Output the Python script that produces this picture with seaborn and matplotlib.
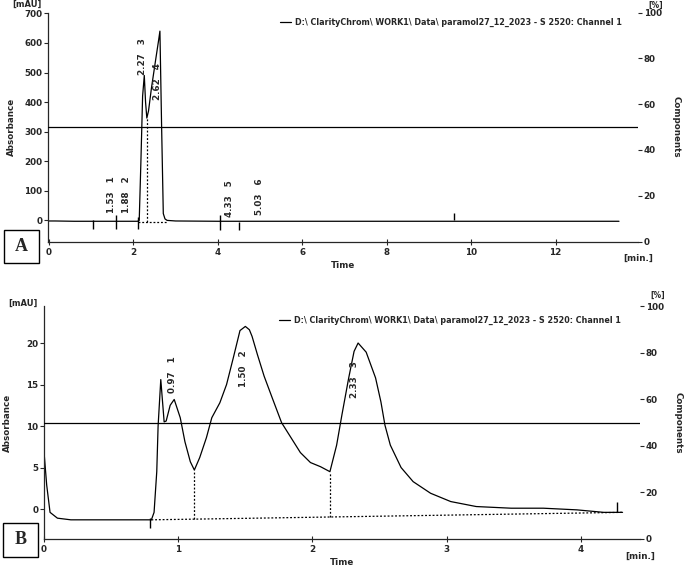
import numpy as np
import pandas as pd
import matplotlib
matplotlib.use("Agg")
import matplotlib.pyplot as plt
import matplotlib.transforms as mtransforms
import seaborn as sns
from matplotlib.patches import Rectangle

# ---------------- data: panel A ----------------
a_time = [0.00, 0.15, 0.60, 1.00, 1.50, 2.00, 2.10, 2.14, 2.18, 2.22, 2.26, 2.29,
          2.32, 2.36, 2.43, 2.53, 2.60, 2.63, 2.67, 2.71, 2.75, 2.80, 3.00, 4.00,
          5.00, 7.00, 9.00, 11.00, 13.50]
a_signal = [-2, -2, -3, -3, -3, -3, -3, 0, 200, 420, 490, 400,
            346, 370, 448, 544, 610, 640, 317, 23, 5, 0, -2, -3,
            -3, -3, -3, -3, -3]
a_peak_rt = [1.53, 1.88, 2.27, 2.62, 4.33, 5.03]
a_peak_id = [1, 2, 3, 4, 5, 6]
a_mark_t = [1.05, 1.60, 2.10, 4.05, 4.50, 9.60]
a_mark_hi = [0, 17, 10, 17, -5, 24]
a_mark_lo = [-30, -30, -30, -34, -34, 0]
a_valley_t = [2.33]
a_valley_v = [346]
a_base_t = [2.12, 2.80]
a_base_v = [-4, -4]

# ---------------- data: panel B ----------------
b_time = [0.00, 0.02, 0.045, 0.10, 0.20, 0.50, 0.80, 0.82, 0.84, 0.85, 0.87, 0.895,
          0.91, 0.94, 0.97, 1.015, 1.05, 1.09, 1.12, 1.16, 1.21, 1.25, 1.31, 1.36,
          1.41, 1.46, 1.50, 1.53, 1.55, 1.59, 1.64, 1.70, 1.77, 1.84, 1.91, 1.985,
          2.06, 2.13, 2.18, 2.22, 2.27, 2.31, 2.34, 2.40, 2.47, 2.51, 2.54, 2.58,
          2.66, 2.75, 2.88, 3.03, 3.22, 3.48, 3.72, 3.97, 4.17, 4.31]
b_signal = [6.9, 2.9, -0.4, -1.1, -1.3, -1.3, -1.3, -0.4, 4.5, 10.0, 15.6, 10.5,
            10.6, 12.5, 13.2, 11.0, 8.1, 5.7, 4.7, 6.2, 8.6, 11.0, 12.8, 15.0,
            18.2, 21.5, 22.0, 21.6, 20.8, 18.6, 16.0, 13.4, 10.4, 8.6, 6.8, 5.6,
            5.1, 4.5, 7.7, 11.4, 15.8, 19.0, 20.0, 18.9, 15.8, 12.9, 10.1, 7.7,
            5.0, 3.3, 1.9, 0.9, 0.3, 0.1, 0.1, -0.1, -0.4, -0.4]
b_peak_rt = [0.97, 1.50, 2.33]
b_peak_id = [1, 2, 3]
b_mark_t = [0.79, 4.27]
b_mark_hi = [-1.1, 0.8]
b_mark_lo = [-2.3, -0.4]
b_valley_t = [1.12, 2.13]
b_valley_v = [4.7, 4.5]
b_base_t = [0.80, 4.31]
b_base_v = [-1.3, -0.4]

legend_text = "D:\\ ClarityChrom\\ WORK1\\ Data\\ paramol27_12_2023 - S 2520: Channel 1"

# ---------------- layout constants ----------------
a_label_bottom = [24, 24, 490, 408, 10, 17]
b_label_bottom = [14.0, 14.7, 13.4]

sns.set_style("ticks")
plt.rcParams["font.family"] = ["DejaVu Sans"]
plt.rcParams["font.weight"] = "bold"

W, H = 686, 568
fig = plt.figure(figsize=(W / 100, H / 100), dpi=100)


def px_axes(l, r, t, b):
    return fig.add_axes([l / W, 1 - b / H, (r - l) / W, (b - t) / H])


tick_fs = 6.3
leg_prop = {"family": "DejaVu Sans", "weight": "bold", "size": 5.8}


def draw_panel(ax, t, s, rt, ids, lab_bottom, mark_t, mark_hi, mark_lo,
               valley_t, valley_v, base_t, base_v, xlim, ylim, xticks, yticks,
               legend_anchor, letter, box_px, mau_y, pct_y):
    df = pd.DataFrame({"Time": t, "Signal": s})
    sns.lineplot(data=df, x="Time", y="Signal", ax=ax, color="black", lw=0.9,
                 label=legend_text, sort=False, estimator=None)
    # integration baseline and drop lines
    ax.plot(base_t, base_v, color="black", lw=0.9, ls=(0, (1.5, 1.5)))
    for vt, vv in zip(valley_t, valley_v):
        yb = np.interp(vt, base_t, base_v)
        ax.vlines(vt, yb, vv, color="black", lw=0.9, ls=(0, (1.5, 1.5)))
    ax.vlines(mark_t, mark_lo, mark_hi, color="black", lw=1.0)
    lab_tr = mtransforms.offset_copy(ax.transData, fig=fig, x=-2, y=0,
                                     units="dots")
    for r, i, yb in zip(rt, ids, lab_bottom):
        ax.text(r, yb, f"{r:.2f}   {i}", rotation=90, ha="center", va="bottom",
                fontsize=6.3, fontweight="bold", transform=lab_tr)
    ax.set_xlim(*xlim)
    ax.set_ylim(*ylim)
    ax.set_xticks(xticks)
    ax.set_yticks(yticks)
    ax.tick_params(axis="x", direction="inout", length=5, width=0.8, pad=2,
                   labelsize=tick_fs)
    ax.tick_params(axis="y", direction="out", length=3, width=0.8, pad=1,
                   labelsize=tick_fs)
    for sp in ["top", "right"]:
        ax.spines[sp].set_visible(False)
    for sp in ["left", "bottom"]:
        ax.spines[sp].set_linewidth(0.9)
    ax.set_xlabel("Time", fontsize=6.3, fontweight="bold", va="center")
    ax.xaxis.set_label_coords(0.5, -0.103)
    ax.set_ylabel("Absorbance", fontsize=6.3, fontweight="bold", va="center")
    ax.yaxis.set_label_coords(-0.062, 0.5)
    ax.legend(loc="upper right", bbox_to_anchor=legend_anchor, frameon=False,
              prop=leg_prop, handlelength=1.4, handletextpad=0.5, borderpad=0,
              borderaxespad=0)

    ax2 = ax.twinx()
    ax2.set_ylim(0, 100)
    ax2.set_yticks([0, 20, 40, 60, 80, 100])
    ax2.tick_params(axis="y", direction="out", length=3, width=0.8, pad=1,
                    labelsize=tick_fs)
    for sp in ax2.spines.values():
        sp.set_visible(False)
    ax2.axhline(50, color="black", lw=0.9)
    ax2.set_ylabel("Components", rotation=270, fontsize=6.3, fontweight="bold",
                   va="center")
    ax2.yaxis.set_label_coords(1.064, 0.5)
    ax.text(1.0, -0.075, "[min.]", transform=ax.transAxes, ha="center",
            va="center", fontsize=6.3, fontweight="bold")
    ax.text(-0.036, mau_y, "[mAU]", transform=ax.transAxes, ha="center",
            va="center", fontsize=6, fontweight="bold")
    ax.text(1.03, pct_y, "[%]", transform=ax.transAxes, ha="center",
            va="center", fontsize=5.5, fontweight="bold")

    x0, y0, x1, y1 = box_px
    fig.add_artist(Rectangle((x0 / W, 1 - y1 / H), (x1 - x0) / W, (y1 - y0) / H,
                             transform=fig.transFigure, fill=False,
                             edgecolor="black", lw=1.0))
    fig.text((x0 + x1) / 2 / W, 1 - (y0 + y1) / 2 / H, letter,
             ha="center", va="center", fontsize=13, fontweight="bold",
             family="Liberation Serif")


axA = px_axes(48, 638, 12.5, 241.5)
draw_panel(axA, a_time, a_signal, a_peak_rt, a_peak_id, a_label_bottom,
           a_mark_t, a_mark_hi, a_mark_lo, a_valley_t, a_valley_v,
           a_base_t, a_base_v, (-0.02, 13.95), (-71.4, 703),
           [0, 2, 4, 6, 8, 10, 12], [0, 100, 200, 300, 400, 500, 600, 700],
           (0.973, 0.976), "A", (4, 230, 39, 263), 1.035, 1.031)

axB = px_axes(44, 640, 306, 539)
draw_panel(axB, b_time, b_signal, b_peak_rt, b_peak_id, b_label_bottom,
           b_mark_t, b_mark_hi, b_mark_lo, b_valley_t, b_valley_v,
           b_base_t, b_base_v, (0, 4.44), (-3.61, 24.46),
           [0, 1, 2, 3, 4], [0, 5, 10, 15, 20],
           (0.968, 0.957), "B", (3, 523, 38, 557), 1.012, 1.045)

fig.savefig("out.png", dpi=100)
